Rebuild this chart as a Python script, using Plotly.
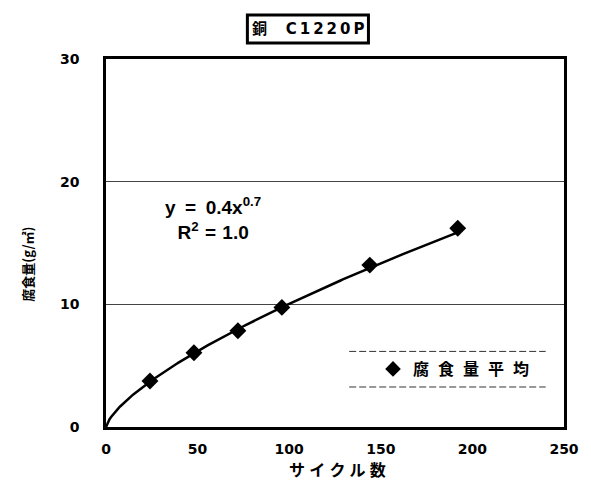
import numpy as np
import plotly.graph_objects as go

# Measured corrosion loss per exposure cycle count
cycles = [24, 48, 72, 96, 144, 192]
corrosion = [3.75, 6.05, 7.85, 9.75, 13.2, 16.2]

# Power-law trendline y = a * x^b
coef_a = 0.4
coef_b = 0.7
r_squared = 1.0

x_ticks = [0, 50, 100, 150, 200, 250]
y_ticks = [0, 10, 20, 30]

EN = "\u2002"
THIN = "\u2009"
series_name = (EN + "\u200a").join("腐食量平均")
chart_title = "銅" + EN + EN + "\u2005" + THIN.join("C1220P")
x_title = (THIN + "\u200a").join("サイクル数")
y_title = "腐食量(g/㎡)"

LATIN = "DejaVu Sans, Noto Sans CJK JP"
CJK = "Noto Sans CJK JP, DejaVu Sans"

trend_x = np.linspace(0, max(cycles), 200)
trend_y = coef_a * trend_x ** coef_b

fig = go.Figure()
fig.add_trace(go.Scatter(
    x=trend_x, y=trend_y, mode="lines",
    line=dict(color="black", width=2.5),
    showlegend=False, hoverinfo="skip",
))
fig.add_trace(go.Scatter(
    x=cycles, y=corrosion, mode="markers", name=series_name,
    marker=dict(symbol="diamond", size=13, color="black"),
))

fig.update_layout(
    width=591, height=481, autosize=False,
    margin=dict(l=106, r=12, t=59, b=54),
    paper_bgcolor="white", plot_bgcolor="white",
    showlegend=True,
    legend=dict(
        x=0.583, y=0.1576, xanchor="left", yanchor="middle",
        bgcolor="rgba(0,0,0,0)", borderwidth=0,
        font=dict(family=CJK, size=16, color="black", weight="bold"),
        itemsizing="constant",
    ),
    xaxis=dict(
        range=[0, 250], tickvals=x_ticks, showgrid=False, zeroline=False,
        showline=True, mirror=True, linecolor="black", linewidth=2.5,
        ticks="", ticklabelstandoff=7,
        tickfont=dict(family=LATIN, size=14, color="black", weight="bold"),
    ),
    yaxis=dict(
        range=[0, 30], tickvals=y_ticks, showgrid=True, gridcolor="#444",
        gridwidth=1, zeroline=False,
        showline=True, mirror=True, linecolor="black", linewidth=2.5,
        ticks="", ticklabelstandoff=21,
        tickfont=dict(family=LATIN, size=14, color="black", weight="bold"),
    ),
)

# Legend frame: dashed rules above and below the entry
for yy in (0.2054, 0.1087):
    fig.add_shape(type="line", xref="paper", yref="paper",
                  x0=0.531, x1=0.960, y0=yy, y1=yy,
                  line=dict(color="#333", width=1, dash="7px,3px"))

# Boxed chart title
fig.add_shape(type="rect", xref="paper", yref="paper",
              x0=0.3087, x1=0.573, y0=1.0435, y1=1.1196,
              line=dict(color="black", width=3))
fig.add_annotation(text=chart_title, xref="paper", yref="paper",
                   x=0.4408, y=1.0815, xanchor="center", yanchor="middle",
                   showarrow=False,
                   font=dict(family=LATIN, size=15, color="black", weight="bold"))

# Axis titles
fig.add_annotation(text=x_title, xref="paper", yref="paper",
                   x=0.506, y=-0.1139, xanchor="center", yanchor="middle",
                   showarrow=False, borderpad=0,
                   font=dict(family=CJK, size=16, color="black", weight="bold"))
fig.add_annotation(text=y_title, xref="paper", yref="paper",
                   x=-0.171, y=0.443, xanchor="center", yanchor="middle",
                   textangle=-90, showarrow=False,
                   font=dict(family=CJK, size=13, color="black", weight="bold"))

# Trendline equation
fig.add_annotation(
    text=(f"y{EN}={EN}{coef_a}x<sup>{coef_b}</sup><br>"
          f"R<sup>2</sup>\u2004=\u2004{r_squared}"),
    x=58.5, y=17.0, xanchor="center", yanchor="middle", align="center",
    showarrow=False,
    font=dict(family="Liberation Sans", size=19, color="black", weight="bold"),
)

fig.write_html("out.html")
